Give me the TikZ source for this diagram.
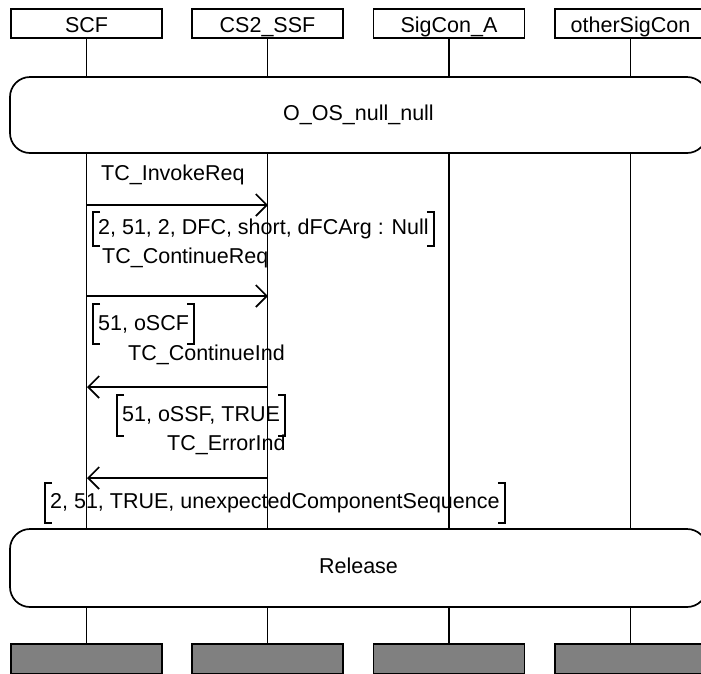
\documentclass[tikz,border=0pt]{standalone}
\usepackage{fontspec}
\setmainfont{Liberation Sans}
\usetikzlibrary{arrows.meta}
\definecolor{endgrey}{HTML}{808080}
\tikzset{
  every node/.style={font=\fontsize{21.5}{25}\selectfont},
  ln/.style={line width=1.7pt},
  headbox/.style={draw, ln, minimum width=151pt, minimum height=29pt, inner sep=0pt, text height=17.5pt, text depth=0pt},
  endbox/.style={draw, ln, fill=endgrey, minimum width=151pt, minimum height=30pt, inner sep=0pt},
  condbox/.style={draw, ln, rounded corners=20pt, minimum width=697pt, inner sep=0pt},
  msgtext/.style={anchor=west, inner sep=0pt},
  partext/.style={anchor=west, inner xsep=5pt, inner ysep=0pt},
  msg/.style={ln, -{Straight Barb[length=11pt, width=22pt, line width=1.7pt]}},
  brk/.style={line width=1.9pt},
}
\begin{document}
\begin{tikzpicture}[x=1pt, y=-1pt]
\useasboundingbox (0,0) rectangle (701,673);
\begin{scope}
\clip (0,0) rectangle (701,673);
% heads
\node[headbox] (h1) at (86.5,23.5) {SCF};
\node[headbox] (h2) at (267.5,23.5) {CS2\_SSF};
\node[headbox] (h3) at (449,23.5) {SigCon\_A};
\node[headbox] (h4) at (630.5,23.5) {otherSigCon};
% condition boxes
\node[condbox, minimum height=76pt, text depth=4pt] (c1) at (358.5,115) {O\_OS\_null\_null};
\node[condbox, minimum height=78pt, text depth=5pt] (c2) at (358.5,568) {Release};
% end boxes
\node[endbox] (e1) at (86.5,659) {};
\node[endbox] (e2) at (267.5,659) {};
\node[endbox] (e3) at (449,659) {};
\node[endbox] (e4) at (630.5,659) {};
\end{scope}
% lifelines
\foreach \i in {1,2,3,4}{
  \draw[ln] (h\i.south) -- (h\i.south |- c1.north);
  \draw[ln] (h\i.south |- c1.south) -- (h\i.south |- c2.north);
  \draw[ln] (h\i.south |- c2.south) -- (e\i.north);
}
% message end points
\coordinate (m1a) at (87,205);  \coordinate (m1b) at (268,205);
\coordinate (m2a) at (87,296);  \coordinate (m2b) at (268,296);
\coordinate (m3a) at (268,387); \coordinate (m3b) at (87,387);
\coordinate (m4a) at (268,478); \coordinate (m4b) at (87,478);
\draw[msg] (m1a) -- (m1b);
\draw[msg] (m2a) -- (m2b);
\draw[msg] (m3a) -- (m3b);
\draw[msg] (m4a) -- (m4b);
% message labels
\node[msgtext] (t1) at (101,175) {TC\_InvokeReq};
\node[msgtext] (t2) at (102,258) {TC\_ContinueReq};
\node[msgtext] (t3) at (128,355) {TC\_ContinueInd};
\node[msgtext] (t4) at (167,445) {TC\_ErrorInd};
% parameters
\node[partext, minimum height=33pt] (p1) at (93,229) {2, 51, 2, DFC, short, dFCArg : Null};
\node[partext, minimum height=40pt] (p2) at (93,324) {51, oSCF};
\node[partext, minimum height=41pt] (p3) at (117,415.5) {51, oSSF, TRUE};
\node[partext, minimum height=40pt] (p4) at (45,503) {2, 51, TRUE, unexpectedComponentSequence};
\foreach \p in {p1,p2,p3,p4}{
  \draw[brk] ([xshift=7pt]\p.north west) -- (\p.north west) -- (\p.south west) -- ([xshift=7pt]\p.south west);
  \draw[brk] ([xshift=-7pt]\p.north east) -- (\p.north east) -- (\p.south east) -- ([xshift=-7pt]\p.south east);
}
\end{tikzpicture}
\end{document}
